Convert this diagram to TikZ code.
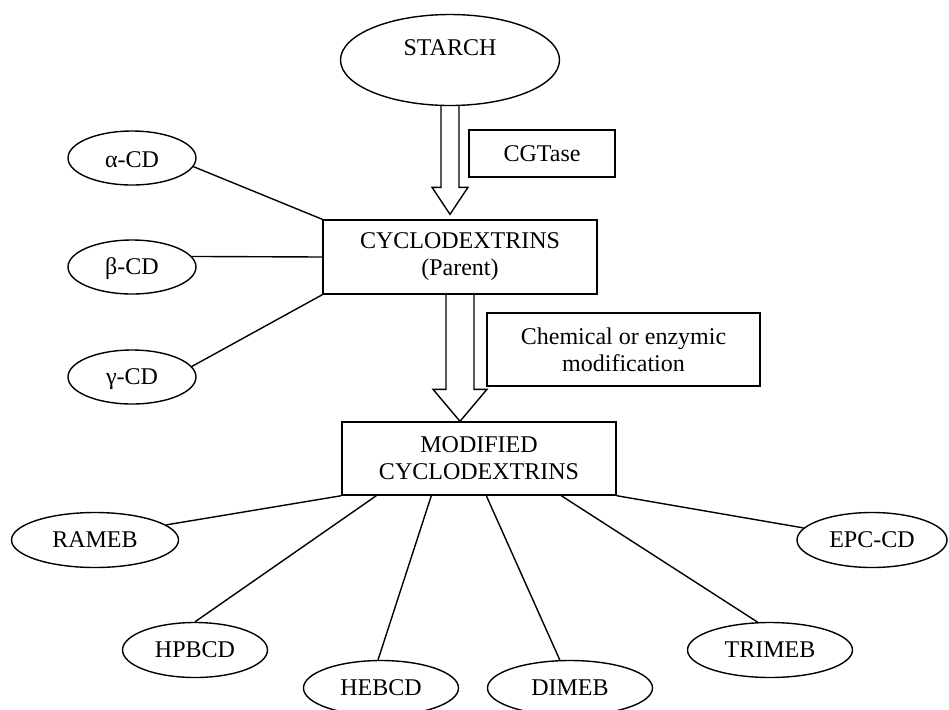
\documentclass[tikz,border=0pt]{standalone}
\usepackage{fontspec}
\setmainfont{Liberation Serif}
\usetikzlibrary{shapes.geometric, calc}

\begin{document}
\begin{tikzpicture}[x=0.5pt, y=-0.5pt, line width=0.7pt,
  font=\fontsize{12}{13.5}\selectfont,
  oval/.style={ellipse, draw, inner sep=0pt},
  box/.style={rectangle, draw, align=center, inner sep=0pt}]
  \useasboundingbox (0,0) rectangle (949,709);
  % main chain
  \node[oval, minimum width=109.5pt, minimum height=45.5pt, text depth=12pt] (starch) at (450,60) {STARCH};
  \node[box, minimum width=73pt, minimum height=23.5pt] (cgt) at (542,153.5) {CGTase};
  \node[box, minimum width=137pt, minimum height=37pt] (cyc) at (460,257) {CYCLODEXTRINS\\(Parent)};
  \node[box, minimum width=136.5pt, minimum height=36.5pt] (chem) at (623.5,349.5) {Chemical or enzymic\\modification};
  \node[box, minimum width=137pt, minimum height=36.5pt] (mod) at (479,458.5) {MODIFIED\\CYCLODEXTRINS};
  % hollow arrows
  \coordinate (t1) at ($(starch.south |- cyc.north)+(0,-5)$);
  \draw ($(starch.south)+(-9,0)$) |- ($(t1)+(-18,-27)$) -- (t1) -- ($(t1)+(18,-27)$) -| ($(starch.south)+(9,0)$);
  \coordinate (t2) at (cyc.south |- mod.north);
  \draw ($(cyc.south)+(-14,0)$) |- ($(t2)+(-27,-32)$) -- (t2) -- ($(t2)+(27,-32)$) -| ($(cyc.south)+(14,0)$);
  % parent cyclodextrins
  \node[oval, minimum width=64pt, minimum height=27pt, text height=10pt] (acd) at (132,158) {α-CD};
  \node[oval, minimum width=64pt, minimum height=27pt, text height=10pt] (bcd) at (132,267) {β-CD};
  \node[oval, minimum width=64pt, minimum height=27pt, text height=10pt] (gcd) at (132,377) {γ-CD};
  \draw (acd.-8) -- (cyc.north west);
  \draw (bcd.10) -- (cyc.west);
  \draw (gcd.10) -- (cyc.south west);
  % modified cyclodextrins
  \node[oval, minimum width=83.5pt, minimum height=27.5pt] (rameb) at (95,540) {RAMEB};
  \node[oval, minimum width=72.5pt, minimum height=27.5pt] (hpbcd) at (195,650) {HPBCD};
  \node[oval, minimum width=77.5pt, minimum height=27.5pt] (hebcd) at (381,688) {HEBCD};
  \node[oval, minimum width=82.5pt, minimum height=27.5pt] (dimeb) at (570,688) {DIMEB};
  \node[oval, minimum width=82.5pt, minimum height=27.5pt] (trimeb) at (770,650) {TRIMEB};
  \node[oval, minimum width=75pt, minimum height=27.5pt] (epc) at (872,540) {EPC-CD};
  \draw (mod.south west) -- (rameb.12);
  \draw ($(mod.south west)+(35,0)$) -- (hpbcd.north);
  \draw ($(mod.south west)+(90,0)$) -- (hebcd.96);
  \draw ($(mod.south west)+(145,0)$) -- (dimeb.110);
  \draw ($(mod.south west)+(220,0)$) -- (trimeb.114);
  \draw (mod.south east) -- (epc.170);
\end{tikzpicture}
\end{document}
